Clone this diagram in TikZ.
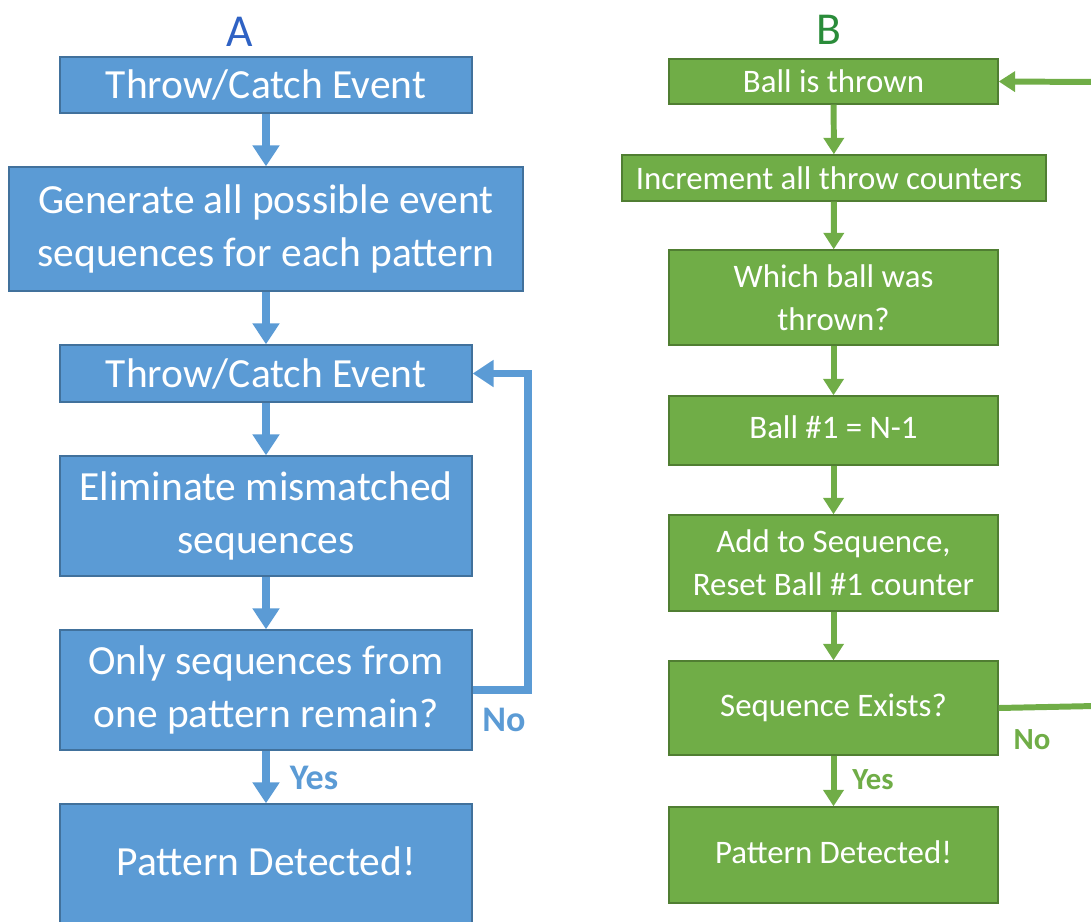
\documentclass[tikz,border=0pt]{standalone}
\usepackage{fontspec}
\setmainfont{Carlito}
\usetikzlibrary{arrows.meta}
\definecolor{boxblue}{HTML}{5B9BD5}
\definecolor{lineblue}{HTML}{41719C}
\definecolor{boxgreen}{HTML}{70AD47}
\definecolor{linegreen}{HTML}{507E32}
\definecolor{titleblue}{HTML}{2F62C4}
\definecolor{titlegreen}{HTML}{2A8C3A}
\begin{document}
\begin{tikzpicture}
[x=0.02cm,y=-0.02cm,
 bluebox/.style={rectangle,draw=lineblue,fill=boxblue,line width=0.8pt,inner sep=0pt,
   minimum width=8.24cm,text=white,align=center,font=\fontsize{23.6}{30.5}\selectfont},
 greenbox/.style={rectangle,draw=linegreen,fill=boxgreen,line width=0.8pt,inner sep=0pt,
   minimum width=6.58cm,text=white,align=center,font=\fontsize{18.7}{24.5}\selectfont},
 bluearrow/.style={draw=boxblue,line width=4.5pt,-{Triangle[width=0.52cm,length=0.42cm]}},
 greenarrow/.style={draw=boxgreen,line width=3.4pt,-{Triangle[width=0.4cm,length=0.33cm]}},
 greenline/.style={draw=boxgreen,line width=3.4pt},
 bluelabel/.style={text=boxblue,font=\fontsize{20.5}{24}\bfseries\selectfont},
 greenlabel/.style={text=boxgreen,font=\fontsize{17.5}{20}\bfseries\selectfont}]
\useasboundingbox (0,0) rectangle (1091,922);
\clip (0,0) rectangle (1091,922);
% titles
\node[text=titleblue,font=\fontsize{26}{30}\selectfont] (titA) at (240,32) {A};
\node[text=titlegreen,font=\fontsize{26}{30}\selectfont] (titB) at (829,30) {B};
% A
\node[bluebox,minimum height=1.12cm] (A1) at (266,85)  {Throw/Catch Event};
\node[bluebox,minimum height=2.48cm,minimum width=10.28cm] (A2) at (266,229)
  {Generate all possible event\\sequences for each pattern};
\node[bluebox,minimum height=1.14cm] (A3) at (266,373.5) {Throw/Catch Event};
\node[bluebox,minimum height=2.4cm]  (A4) at (266,516) {Eliminate mismatched\\sequences};
\node[bluebox,minimum height=2.4cm]  (A5) at (266,690) {Only sequences from\\one pattern remain?};
\node[bluebox,minimum height=3.2cm]  (A6) at (266,884) {\raisebox{0.92cm}{Pattern Detected!}};
\path (A1) edge[bluearrow] (A2)
      (A2) edge[bluearrow] (A3)
      (A3) edge[bluearrow] (A4)
      (A4) edge[bluearrow] (A5)
      (A5) edge[bluearrow] (A6);
\draw[bluearrow] (A5.east) -- ++(55,0) |- (A3.east);
\node[bluelabel] (Ano)  at (504,720) {No};
\node[bluelabel] (Ayes) at (314,778) {Yes};
% B
\node[greenbox,minimum height=0.9cm] (B1) at (833.5,81.5) {\raisebox{-0.06cm}{Ball is thrown}};
\node[greenbox,minimum height=0.92cm,minimum width=8.48cm] (B2) at (834,178)
  {\hspace*{-0.2cm}Increment all throw counters};
\node[greenbox,minimum height=1.9cm]  (B3) at (833.5,297.5) {Which ball was\\thrown?};
\node[greenbox,minimum height=1.38cm] (B4) at (833.5,430.5) {\raisebox{0.15cm}{Ball \#1 = N-1}};
\node[greenbox,minimum height=1.92cm] (B5) at (833.5,563) {Add to Sequence,\\Reset Ball \#1 counter};
\node[greenbox,minimum height=1.88cm] (B6) at (833.5,708) {Sequence Exists?};
\node[greenbox,minimum height=1.92cm] (B7) at (833.5,855) {\raisebox{0.12cm}{Pattern Detected!}};
\path (B1) edge[greenarrow] (B2)
      (B2) edge[greenarrow] (B3)
      (B3) edge[greenarrow] (B4)
      (B4) edge[greenarrow] (B5)
      (B5) edge[greenarrow] (B6)
      (B6) edge[greenarrow] (B7);
\coordinate (loopin)  at (1095,82);
\coordinate (loopout) at (1095,706);
\draw[greenarrow] (loopin) -- (B1.east);
\draw[greenline] (B6.east) -- (loopout);
\node[greenlabel] (Bno)  at (1032,740) {No};
\node[greenlabel] (Byes) at (873,780) {Yes};
\end{tikzpicture}
\end{document}
